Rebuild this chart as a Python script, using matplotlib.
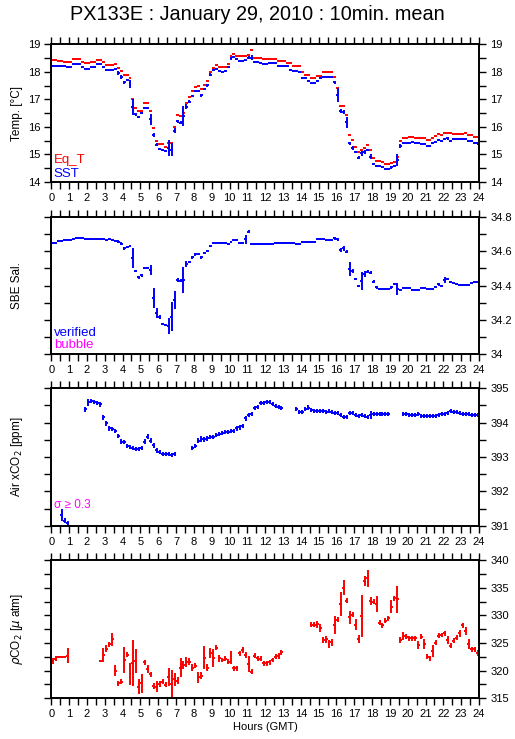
import numpy as np
import matplotlib
matplotlib.use("Agg")
import matplotlib.pyplot as plt
from matplotlib.ticker import MultipleLocator, FormatStrFormatter

plt.rcParams['font.family'] = ['Liberation Sans', 'DejaVu Sans']

nan = np.nan

# 10-minute means, 6 values per hour (rows = hours 0..23)
eq_t = [
    18.43, 18.43, 18.41, 18.41, 18.37, 18.34,
    18.34, 18.46, 18.46, 18.46, 18.34, 18.33,
    18.31, 18.35, 18.35, 18.44, 18.44, 18.37,
    18.24, 18.24, 18.24, 18.30, 18.13, 18.03,
    17.88, 17.88, 17.79, 17.00, 16.68, 16.56,
    16.58, 16.86, 16.86, 16.56, 15.96, 15.49,
    15.38, 15.38, 15.28, 15.40, 15.41, 15.98,
    16.42, 16.38, 16.50, 16.86, 17.10, 17.29,
    17.44, 17.48, 17.37, 17.53, 17.65, 18.00,
    18.13, 18.25, 18.19, 18.17, 18.17, 18.28,
    18.59, 18.65, 18.58, 18.57, 18.57, 18.57,
    18.61, 18.78, 18.52, 18.52, 18.52, 18.47,
    18.47, 18.47, 18.47, 18.47, 18.41, 18.41,
    18.41, 18.33, 18.33, 18.21, 18.21, 18.21,
    17.98, 17.89, 17.89, 17.77, 17.77, 17.86,
    17.86, 18.00, 18.00, 17.98, 17.98, 17.80,
    17.40, 16.77, 16.76, 16.43, 15.71, 15.53,
    15.26, 15.08, 15.16, 15.22, 15.34, 15.16,
    14.86, 14.76, 14.76, 14.71, 14.65, 14.65,
    14.68, 14.74, 14.90, 15.49, 15.61, 15.61,
    15.65, 15.65, 15.61, 15.61, 15.61, 15.60,
    15.52, 15.52, 15.61, 15.68, 15.73, 15.71,
    15.77, 15.77, 15.77, 15.75, 15.75, 15.75,
    15.75, 15.77, 15.71, 15.71, 15.62, 15.62,
]

sst = [
    18.21, 18.21, 18.22, 18.21, 18.20, 18.18,
    18.19, 18.28, 18.28, 18.28, 18.17, 18.12,
    18.12, 18.16, 18.17, 18.28, 18.28, 18.18,
    18.07, 18.06, 18.07, 18.12, 17.95, 17.80,
    17.62, 17.70, 17.57, 16.72, 16.46, 16.37,
    16.50, 16.68, 16.67, 16.28, 15.71, 15.35,
    15.20, 15.17, 15.12, 15.23, 15.18, 15.87,
    16.20, 16.16, 16.40, 16.74, 16.92, 17.12,
    17.29, 17.31, 17.15, 17.38, 17.51, 17.89,
    18.07, 18.11, 18.03, 18.00, 18.03, 18.17,
    18.49, 18.55, 18.46, 18.41, 18.41, 18.42,
    18.52, 18.52, 18.34, 18.34, 18.33, 18.29,
    18.30, 18.32, 18.33, 18.31, 18.21, 18.21,
    18.21, 18.21, 18.08, 18.04, 18.04, 17.98,
    17.79, 17.79, 17.68, 17.61, 17.61, 17.68,
    17.79, 17.83, 17.83, 17.83, 17.80, 17.62,
    17.16, 16.58, 16.55, 16.17, 15.40, 15.25,
    15.08, 14.88, 15.04, 15.10, 15.16, 14.92,
    14.65, 14.58, 14.58, 14.53, 14.47, 14.47,
    14.53, 14.58, 14.80, 15.31, 15.43, 15.43,
    15.43, 15.44, 15.43, 15.43, 15.38, 15.38,
    15.32, 15.32, 15.40, 15.45, 15.52, 15.49,
    15.55, 15.58, 15.50, 15.56, 15.56, 15.56,
    15.56, 15.56, 15.49, 15.49, 15.40, 15.40,
]

sst_std = [
    0.02, 0.02, 0.02, 0.02, 0.02, 0.04,
    0.02, 0.02, 0.02, 0.02, 0.04, 0.02,
    0.02, 0.02, 0.02, 0.02, 0.02, 0.04,
    0.02, 0.02, 0.02, 0.02, 0.08, 0.07,
    0.05, 0.04, 0.14, 0.28, 0.05, 0.04,
    0.04, 0.02, 0.02, 0.20, 0.06, 0.06,
    0.04, 0.03, 0.02, 0.30, 0.22, 0.10,
    0.04, 0.05, 0.35, 0.08, 0.05, 0.04,
    0.03, 0.02, 0.06, 0.04, 0.06, 0.05,
    0.03, 0.02, 0.02, 0.02, 0.02, 0.04,
    0.06, 0.02, 0.02, 0.02, 0.02, 0.02,
    0.06, 0.10, 0.02, 0.02, 0.02, 0.02,
    0.02, 0.02, 0.02, 0.02, 0.02, 0.02,
    0.02, 0.02, 0.04, 0.02, 0.02, 0.04,
    0.04, 0.02, 0.04, 0.02, 0.02, 0.04,
    0.04, 0.02, 0.02, 0.02, 0.02, 0.06,
    0.24, 0.08, 0.08, 0.20, 0.07, 0.07,
    0.04, 0.05, 0.10, 0.07, 0.04, 0.08,
    0.04, 0.02, 0.02, 0.02, 0.02, 0.02,
    0.04, 0.04, 0.22, 0.07, 0.02, 0.02,
    0.02, 0.02, 0.04, 0.02, 0.04, 0.02,
    0.02, 0.04, 0.02, 0.02, 0.04, 0.02,
    0.02, 0.04, 0.02, 0.02, 0.02, 0.02,
    0.02, 0.02, 0.02, 0.02, 0.02, 0.06,
]

sal = [
    34.649, 34.649, 34.659, 34.659, 34.666, 34.666,
    34.666, 34.672, 34.676, 34.676, 34.676, 34.668,
    34.668, 34.668, 34.668, 34.668, 34.668, 34.668,
    34.664, 34.670, 34.664, 34.660, 34.655, 34.643,
    34.616, 34.622, 34.630, 34.558, 34.484, 34.447,
    34.460, 34.500, 34.500, 34.490, 34.325, 34.242,
    34.215, 34.176, 34.170, 34.164, 34.219, 34.315,
    34.432, 34.428, 34.432, 34.525, 34.536, 34.564,
    34.581, 34.583, 34.564, 34.591, 34.600, 34.629,
    34.649, 34.650, 34.650, 34.650, 34.650, 34.641,
    34.655, 34.664, 34.662, 34.649, 34.649, 34.668,
    34.713, 34.643, 34.643, 34.643, 34.643, 34.643,
    34.643, 34.643, 34.643, 34.645, 34.649, 34.649,
    34.649, 34.649, 34.649, 34.645, 34.641, 34.641,
    34.653, 34.653, 34.653, 34.653, 34.653, 34.668,
    34.668, 34.668, 34.662, 34.662, 34.662, 34.674,
    34.668, 34.606, 34.616, 34.597, 34.494, 34.484,
    34.438, 34.397, 34.426, 34.467, 34.480, 34.474,
    34.422, 34.389, 34.378, 34.378, 34.378, 34.378,
    34.389, 34.409, 34.378, 34.374, 34.387, 34.387,
    34.387, 34.374, 34.374, 34.374, 34.386, 34.386,
    34.380, 34.380, 34.380, 34.390, 34.407, 34.397,
    34.432, 34.436, 34.422, 34.416, 34.410, 34.403,
    34.403, 34.403, 34.403, 34.412, 34.420, 34.420,
]

sal_std = [
    0.003, 0.003, 0.003, 0.003, 0.003, 0.003,
    0.003, 0.003, 0.003, 0.003, 0.003, 0.003,
    0.003, 0.003, 0.003, 0.003, 0.003, 0.003,
    0.003, 0.003, 0.003, 0.003, 0.008, 0.008,
    0.008, 0.003, 0.008, 0.058, 0.008, 0.008,
    0.008, 0.003, 0.003, 0.027, 0.058, 0.030,
    0.012, 0.008, 0.008, 0.047, 0.085, 0.052,
    0.012, 0.010, 0.076, 0.015, 0.008, 0.008,
    0.008, 0.003, 0.008, 0.003, 0.008, 0.008,
    0.003, 0.003, 0.003, 0.003, 0.003, 0.008,
    0.003, 0.003, 0.003, 0.003, 0.003, 0.025,
    0.010, 0.003, 0.003, 0.003, 0.003, 0.003,
    0.003, 0.003, 0.003, 0.003, 0.003, 0.003,
    0.003, 0.003, 0.003, 0.003, 0.003, 0.003,
    0.003, 0.003, 0.003, 0.003, 0.003, 0.003,
    0.003, 0.003, 0.003, 0.003, 0.003, 0.008,
    0.008, 0.010, 0.015, 0.008, 0.040, 0.010,
    0.008, 0.008, 0.050, 0.015, 0.008, 0.008,
    0.008, 0.008, 0.003, 0.003, 0.003, 0.003,
    0.008, 0.003, 0.035, 0.003, 0.003, 0.003,
    0.003, 0.003, 0.003, 0.003, 0.003, 0.003,
    0.003, 0.003, 0.003, 0.003, 0.008, 0.003,
    0.020, 0.003, 0.003, 0.003, 0.003, 0.003,
    0.003, 0.003, 0.003, 0.003, 0.003, 0.003,
]

xco2 = [
    nan, nan, nan, 391.31, 391.14, 391.07,
    nan, nan, nan, nan, nan, 394.39,
    394.59, 394.63, 394.61, 394.58, 394.53, 394.15,
    393.98, 393.83, 393.82, 393.76, 393.61, 393.45,
    393.43, 393.31, 393.28, 393.26, 393.23, 393.23,
    393.26, 393.45, 393.59, 393.48, 393.34, 393.19,
    393.14, 393.10, 393.09, 393.08, 393.07, 393.10,
    nan, nan, nan, nan, nan, 393.25,
    393.32, 393.48, 393.52, 393.51, 393.54, 393.58,
    393.59, 393.63, 393.66, 393.71, 393.73, 393.74,
    393.76, 393.76, 393.83, 393.86, 393.90, 394.13,
    394.22, 394.26, 394.42, 394.45, 394.56, 394.58,
    394.61, 394.59, 394.54, 394.48, 394.45, 394.42,
    nan, nan, nan, nan, 394.39, 394.30,
    394.30, 394.39, 394.44, 394.37, 394.34, 394.34,
    394.34, 394.34, 394.30, 394.34, 394.30, 394.27,
    394.27, 394.22, 394.17, 394.17, 394.27, 394.27,
    394.22, 394.19, 394.22, 394.20, 394.17, 394.22,
    394.24, 394.25, 394.25, 394.25, 394.25, 394.25,
    nan, nan, nan, nan, 394.24, 394.24,
    394.23, 394.22, 394.22, 394.24, 394.19, 394.19,
    394.19, 394.19, 394.19, 394.20, 394.22, 394.25,
    394.25, 394.29, 394.34, 394.30, 394.30, 394.27,
    394.25, 394.25, 394.25, 394.22, 394.22, 394.21,
]

xco2_std = [
    nan, nan, nan, 0.17, 0.07, 0.06,
    nan, nan, nan, nan, nan, 0.07,
    0.10, 0.07, 0.06, 0.06, 0.06, 0.08,
    0.07, 0.06, 0.06, 0.06, 0.07, 0.06,
    0.06, 0.06, 0.06, 0.06, 0.06, 0.06,
    0.06, 0.06, 0.07, 0.06, 0.07, 0.06,
    0.06, 0.06, 0.06, 0.06, 0.06, 0.06,
    nan, nan, nan, nan, nan, 0.06,
    0.06, 0.07, 0.08, 0.06, 0.06, 0.06,
    0.06, 0.06, 0.06, 0.06, 0.06, 0.06,
    0.06, 0.06, 0.06, 0.06, 0.06, 0.07,
    0.07, 0.06, 0.06, 0.06, 0.06, 0.06,
    0.06, 0.06, 0.06, 0.06, 0.06, 0.06,
    nan, nan, nan, nan, 0.06, 0.06,
    0.06, 0.06, 0.07, 0.06, 0.06, 0.06,
    0.06, 0.06, 0.06, 0.06, 0.06, 0.06,
    0.06, 0.06, 0.06, 0.06, 0.06, 0.06,
    0.06, 0.06, 0.06, 0.06, 0.06, 0.12,
    0.06, 0.06, 0.06, 0.06, 0.06, 0.06,
    nan, nan, nan, nan, 0.06, 0.06,
    0.06, 0.06, 0.06, 0.06, 0.06, 0.06,
    0.06, 0.06, 0.06, 0.06, 0.06, 0.06,
    0.06, 0.06, 0.06, 0.06, 0.06, 0.06,
    0.06, 0.06, 0.06, 0.06, 0.06, 0.06,
]

pco2 = [
    321.76, 322.13, 322.55, 322.55, 322.55, 322.73,
    nan, nan, nan, nan, nan, nan,
    nan, nan, nan, nan, 321.76, 322.85,
    324.00, 324.78, 325.69, 320.01, 317.72, 318.02,
    321.94, 322.85, 319.35, 321.34, 321.76, 317.11,
    317.72, 321.52, 320.31, 319.35, 317.23, 317.11,
    317.60, 318.02, 317.42, 318.92, 317.60, 318.44,
    318.20, 320.56, 321.04, 321.64, 321.64, 320.56,
    320.92, 318.80, 319.11, 322.37, 320.56, 323.15,
    322.25, 324.18, 322.25, 321.94, 322.13, 321.64,
    322.43, 320.43, 320.43, 323.15, 323.76, 322.85,
    321.22, 319.83, 322.67, 322.25, 322.13, 321.34,
    321.34, 321.52, 321.94, 322.55, 322.67, 323.33,
    nan, nan, nan, nan, nan, nan,
    nan, nan, nan, 328.29, 328.29, 328.41,
    327.68, 325.57, 325.69, 324.84, 325.14, 328.29,
    329.19, 332.09, 335.05, 332.70, 329.67, 330.10,
    328.29, 325.69, 329.98, 336.26, 336.74, 332.63,
    332.51, 332.09, 328.65, 328.22, 329.01, 329.49,
    331.60, 333.12, 332.93, 325.57, 326.35, 326.17,
    325.87, 325.87, 325.87, 324.66, 326.11, 324.78,
    322.55, 322.25, 323.57, 325.08, 326.29, 326.47,
    326.78, 325.57, 324.54, 325.45, 325.99, 326.78,
    328.22, 327.20, 324.78, 323.88, 323.90, 323.27,
]

pco2_std = [
    0.5, 0.45, 0.2, 0.2, 0.2, 1.3,
    nan, nan, nan, nan, nan, nan,
    nan, nan, nan, nan, 0.2, 1.2,
    0.6, 0.45, 1.15, 1.05, 0.5, 0.45,
    2.35, 0.45, 2.0, 4.2, 2.2, 1.3,
    1.7, 0.5, 0.75, 0.5, 0.6, 1.0,
    0.5, 0.45, 0.45, 1.65, 2.6, 1.2,
    0.6, 1.75, 0.8, 0.9, 0.6, 0.6,
    0.5, 0.95, 0.6, 2.1, 0.6, 0.9,
    1.6, 0.45, 0.6, 0.45, 0.45, 0.45,
    1.2, 0.45, 0.45, 0.5, 0.5, 0.5,
    1.5, 0.5, 0.45, 0.45, 0.45, 0.45,
    0.45, 0.45, 0.45, 0.45, 0.5, 0.45,
    nan, nan, nan, nan, nan, nan,
    nan, nan, nan, 0.45, 0.45, 0.6,
    0.7, 0.6, 0.6, 0.75, 0.65, 1.6,
    0.45, 2.25, 1.3, 0.45, 1.15, 0.45,
    1.0, 0.75, 3.8, 0.95, 1.5, 0.7,
    0.45, 1.4, 0.45, 0.45, 0.45, 0.5,
    1.15, 0.45, 2.4, 0.6, 0.7, 0.45,
    0.45, 0.45, 0.45, 0.8, 0.45, 0.9,
    0.45, 0.45, 1.0, 0.45, 0.45, 0.45,
    0.45, 0.65, 0.45, 0.45, 0.45, 0.6,
    0.45, 0.7, 0.9, 0.45, 0.45, 0.55,
]

hours = (np.arange(144) + 0.5) / 6.0   # centre of each 10-min interval
half = 1.0 / 12.0                      # +/- 5 min

RED = '#ff0000'
BLUE = '#0000ff'
MAGENTA = '#ff00ff'

fig = plt.figure(figsize=(5.15, 7.39), dpi=100)
L, W = 51.3 / 515, (479 - 51.3) / 515
tops = [44.3, 216.7, 388.3, 560.3]
bots = [182.0, 354.3, 525.7, 698.3]
axes = []
for t, b in zip(tops, bots):
    axes.append(fig.add_axes([L, 1 - b / 739, W, (b - t) / 739]))


def bars(ax, y, err, color):
    y = np.asarray(y, float)
    ok = np.isfinite(y)
    e = None if err is None else np.asarray(err, float)[ok]
    ax.errorbar(hours[ok], y[ok], xerr=half, yerr=e, fmt='none',
                ecolor=color, elinewidth=1.4, capsize=0)


def style(ax, ylim, major, minor, fmt, left_labels=False):
    ax.set_xlim(0, 24)
    ax.set_ylim(*ylim)
    ax.xaxis.set_major_locator(MultipleLocator(1))
    ax.xaxis.set_minor_locator(MultipleLocator(0.5))
    ax.yaxis.set_major_locator(MultipleLocator(major))
    ax.yaxis.set_minor_locator(MultipleLocator(minor))
    ax.yaxis.set_major_formatter(FormatStrFormatter(fmt))
    ax.tick_params(which='both', direction='out', top=True, right=True,
                   left=True, bottom=True, length=5, width=1.0)
    ax.tick_params(axis='y', labelleft=left_labels, labelright=True,
                   labelsize=8, pad=3)
    ax.tick_params(axis='x', labelsize=8, pad=3)
    for s in ax.spines.values():
        s.set_linewidth(1.4)


ax1, ax2, ax3, ax4 = axes

bars(ax1, eq_t, None, RED)
bars(ax1, sst, sst_std, BLUE)
style(ax1, (14, 19), 1, 0.5, '%g', left_labels=True)
ax1.text(0.006, 0.14, 'Eq_T', color=RED, fontsize=9.5, transform=ax1.transAxes)
ax1.text(0.006, 0.035, 'SST', color=BLUE, fontsize=9.5, transform=ax1.transAxes)

bars(ax2, sal, sal_std, BLUE)
style(ax2, (34, 34.8), 0.2, 0.1, '%g')
ax2.text(0.006, 0.133, 'verified', color=BLUE, fontsize=9.5, transform=ax2.transAxes)
ax2.text(0.006, 0.044, 'bubble', color=MAGENTA, fontsize=9.5, transform=ax2.transAxes)

bars(ax3, xco2, xco2_std, BLUE)
style(ax3, (391, 395), 1, 0.5, '%g')
ax3.text(0.006, 0.131, 'σ ≥ 0.3', color=MAGENTA, fontsize=8.5, transform=ax3.transAxes)

bars(ax4, pco2, pco2_std, RED)
style(ax4, (315, 340), 5, 2.5, '%g')
ax4.set_xlabel('Hours (GMT)', fontsize=8, labelpad=2)

ylabels = ['Temp. [°C]', 'SBE Sal.', 'Air xCO$_2$ [ppm]', r'$\rho$CO$_2$ [$\mu$ atm]']
for ax, lab, t, b in zip(axes, ylabels, tops, bots):
    fig.text(17 / 515, 1 - (t + b) / 2 / 739, lab, rotation=90, fontsize=8.5,
             ha='center', va='center')

fig.text(0.5, 1 - 14 / 739, 'PX133E : January 29, 2010 : 10min. mean',
         ha='center', va='center', fontsize=14.3)

fig.savefig('out.png', dpi=100)
